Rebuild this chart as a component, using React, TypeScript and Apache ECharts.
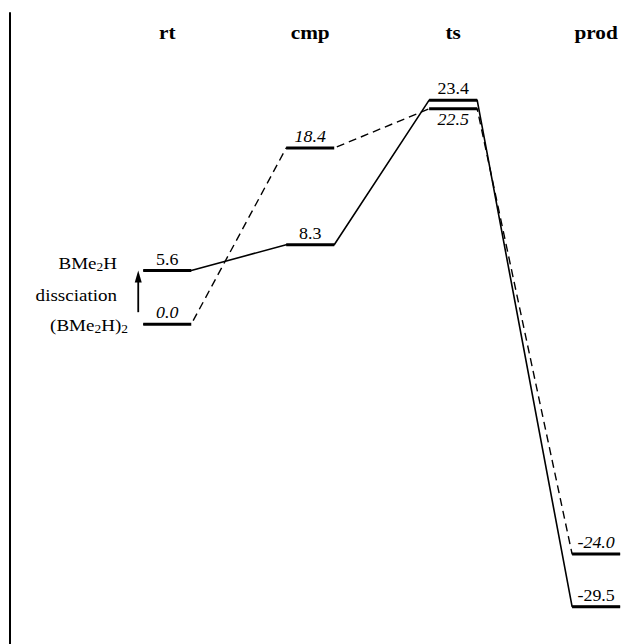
import React, { useEffect, useRef } from 'react';
import * as echarts from 'echarts';

// Stage names (column headers)
const stages = ['rt', 'cmp', 'ts', 'prod'];
// Energies (kcal/mol) along the two pathways
const solidPath = [5.6, 8.3, 23.4, -29.5];
const dashedPath = [0.0, 18.4, 22.5, -24.0];
// Whether the label of a dashed-path level sits below its bar
const dashedLabelBelow = [false, false, true, false];
// Left-hand annotation (rich text, with subscripts)
const leftNotes = ['{n|BMe}{s|2}{n|H}', '{n|dissciation}', '{n|(BMe}{s|2}{n|H)}{s|2}'];

const X_MIN = -1.1;
const X_MAX = 3.3;
const Y_MIN = -33.4;
const Y_MAX = 32.5;
const HALF = 0.168;
const FONT = '"Liberation Serif", "Times New Roman", serif';
const SX = 1.12;

function pathPoints(vals: number[]) {
  const pts: number[][] = [];
  vals.forEach((v, i) => {
    pts.push([i - HALF, v]);
    pts.push([i + HALF, v]);
  });
  return pts;
}

export default function App() {
  const ref = useRef<HTMLDivElement>(null);

  useEffect(() => {
    if (!ref.current) return;
    const chart = echarts.init(ref.current, undefined, { renderer: 'svg' });

    const levels: number[][] = [];
    solidPath.forEach((v, i) => levels.push([i, v, 0, 0]));
    dashedPath.forEach((v, i) => levels.push([i, v, 1, dashedLabelBelow[i] ? 1 : 0]));

    const subRich = {
      n: { fontFamily: FONT, fontSize: 17, lineHeight: 20, color: '#000' },
      s: { fontFamily: FONT, fontSize: 12, lineHeight: 8, color: '#000', verticalAlign: 'bottom' },
    };

    const noteY = [263, 295, 325];
    const noteX = [117, 117, 128];

    const option: any = {
      animation: false,
      backgroundColor: '#fff',
      grid: { left: 10, right: 0, top: 13, bottom: 0, outerBoundsMode: 'none' },
      xAxis: { type: 'value', min: X_MIN, max: X_MAX, show: false },
      yAxis: {
        type: 'value',
        min: Y_MIN,
        max: Y_MAX,
        axisLine: { show: true, onZero: false, lineStyle: { color: '#000', width: 2 } },
        axisTick: { show: false },
        axisLabel: { show: false },
        splitLine: { show: false },
      },
      graphic: leftNotes.map((t, k) => ({
        type: 'text',
        x: noteX[k],
        y: noteY[k],
        scaleX: SX,
        style: {
          text: t,
          rich: subRich,
          align: 'right',
          verticalAlign: 'middle',
          fill: '#000',
        },
      })),
      series: [
        {
          type: 'line',
          data: pathPoints(solidPath),
          symbol: 'none',
          silent: true,
          z: 2,
          lineStyle: { color: '#000', width: 1.6, type: 'solid' },
        },
        {
          type: 'line',
          data: pathPoints(dashedPath),
          symbol: 'none',
          silent: true,
          z: 2,
          lineStyle: { color: '#000', width: 1.4, type: [8, 5] },
        },
        {
          type: 'custom',
          data: levels,
          z: 5,
          clip: false,
          silent: true,
          renderItem: (params: any, api: any) => {
            const i = api.value(0) as number;
            const v = api.value(1) as number;
            const italic = api.value(2) === 1;
            const below = api.value(3) === 1;
            const a = api.coord([i - HALF, v]);
            const b = api.coord([i + HALF, v]);
            return {
              type: 'group',
              children: [
                {
                  type: 'line',
                  shape: { x1: a[0], y1: a[1], x2: b[0], y2: b[1] },
                  style: { stroke: '#000', lineWidth: 3 },
                },
                {
                  type: 'text',
                  x: (a[0] + b[0]) / 2,
                  y: a[1] + (below ? 11 : -11),
                  scaleX: SX,
                  style: {
                    text: v.toFixed(1),
                    font: (italic ? 'italic ' : '') + '16px ' + FONT,
                    fontFamily: FONT,
                    fontSize: 16,
                    fontStyle: italic ? 'italic' : 'normal',
                    align: 'center',
                    verticalAlign: 'middle',
                    fill: '#000',
                  },
                },
              ],
            };
          },
        },
        {
          type: 'custom',
          data: stages.map((s, i) => [i, Y_MAX]),
          z: 5,
          clip: false,
          silent: true,
          renderItem: (params: any, api: any) => {
            const p = api.coord([api.value(0), api.value(1)]);
            return {
              type: 'text',
              x: p[0],
              y: p[1] + 19,
              scaleX: SX,
              style: {
                text: stages[params.dataIndex],
                font: 'bold 19px ' + FONT,
                fontFamily: FONT,
                fontSize: 19,
                fontWeight: 'bold',
                align: 'center',
                verticalAlign: 'middle',
                fill: '#000',
              },
            };
          },
        },
        {
          type: 'custom',
          data: [[0, dashedPath[0], solidPath[0]]],
          z: 5,
          clip: false,
          silent: true,
          renderItem: (params: any, api: any) => {
            const i = api.value(0) as number;
            const v0 = api.value(1) as number;
            const v1 = api.value(2) as number;
            const x = api.coord([i - HALF, v0])[0] - 5;
            const yBot = api.coord([i, v0])[1] - 12;
            const yTop = api.coord([i, v1])[1];
            return {
              type: 'group',
              children: [
                {
                  type: 'line',
                  shape: { x1: x, y1: yBot, x2: x, y2: yTop + 10 },
                  style: { stroke: '#000', lineWidth: 1.8 },
                },
                {
                  type: 'polygon',
                  shape: { points: [[x, yTop], [x - 3.5, yTop + 12], [x + 3.5, yTop + 12]] },
                  style: { fill: '#000' },
                },
              ],
            };
          },
        },
      ],
    };

    chart.setOption(option);
    return () => chart.dispose();
  }, []);

  return (
    <div
      ref={ref}
      style={{ position: 'fixed', left: 0, top: 0, width: 639, height: 644, background: '#fff' }}
    />
  );
}
